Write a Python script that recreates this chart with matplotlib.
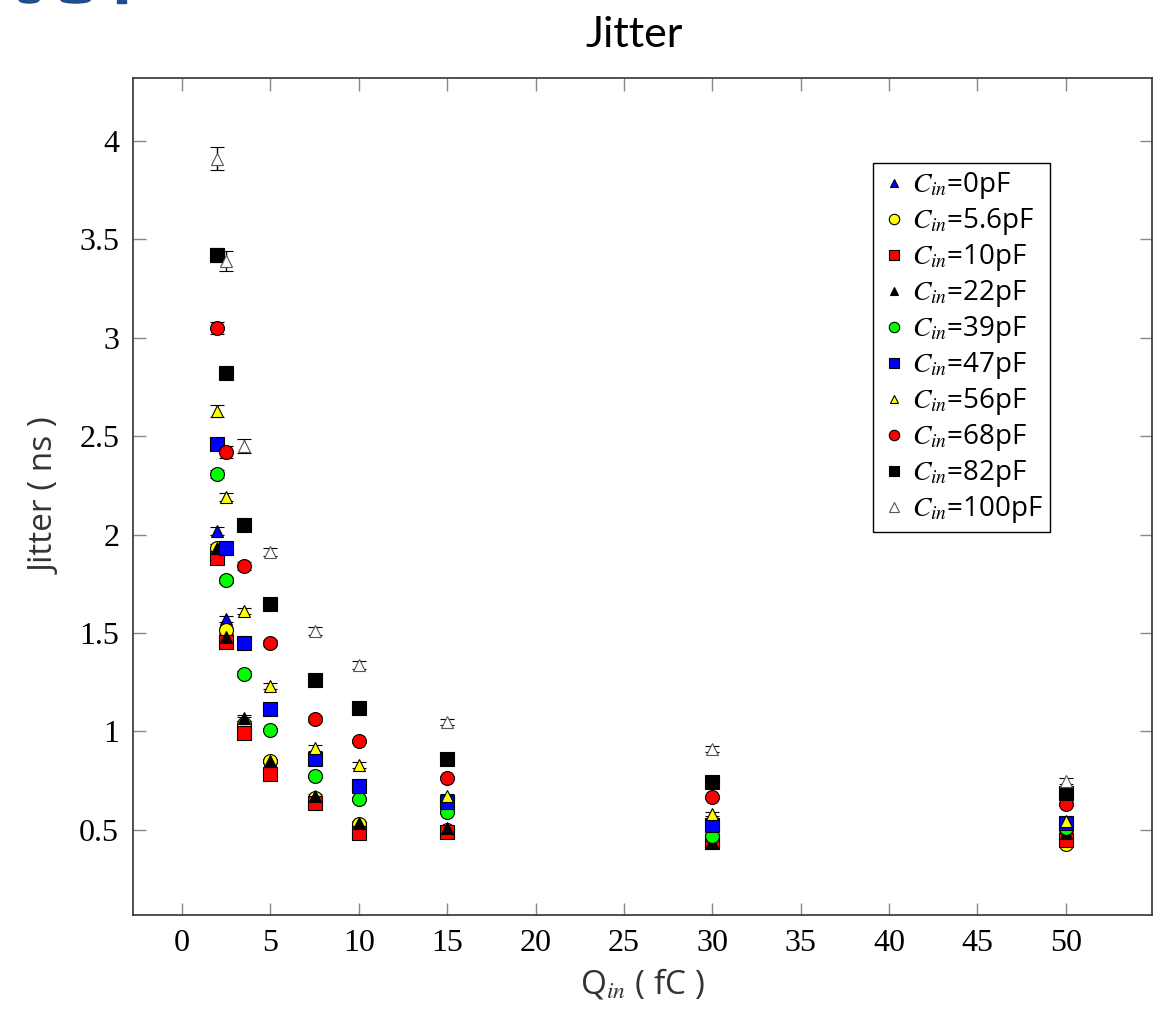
import numpy as np
import matplotlib
matplotlib.use('Agg')
from matplotlib import pyplot as plt
from matplotlib.patches import Ellipse, Rectangle

# charge points (fC)
q_in = [2, 2.5, 3.5, 5, 7.5, 10, 15, 30, 50]

# jitter (ns) per input capacitance
j_0 = [2.02, 1.57, 1.06, 0.85, 0.66, 0.53, 0.50, 0.49, 0.50]
j_5p6 = [1.93, 1.515, 1.04, 0.85, 0.66, 0.53, 0.50, 0.45, 0.43]
j_10 = [1.88, 1.455, 0.99, 0.785, 0.635, 0.485, 0.49, 0.44, 0.45]
j_22 = [1.93, 1.48, 1.07, 0.85, 0.67, 0.535, 0.51, 0.44, 0.485]
j_39 = [2.31, 1.77, 1.29, 1.01, 0.775, 0.655, 0.59, 0.47, 0.51]
j_47 = [2.46, 1.93, 1.45, 1.115, 0.86, 0.725, 0.64, 0.525, 0.535]
j_56 = [2.63, 2.19, 1.61, 1.23, 0.915, 0.83, 0.67, 0.58, 0.545]
j_68 = [3.05, 2.42, 1.84, 1.45, 1.065, 0.95, 0.765, 0.665, 0.63]
j_82 = [3.42, 2.82, 2.05, 1.65, 1.26, 1.12, 0.86, 0.745, 0.69]
j_100 = [3.91, 3.39, 2.45, 1.91, 1.51, 1.34, 1.05, 0.91, 0.75]

# error bars (ns)
e_small = [0.02, 0.015, 0.015, 0.01, 0.01, 0.01, 0.01, 0.01, 0.01]
e_56 = [0.03, 0.02, 0.015, 0.015, 0.015, 0.015, 0.015, 0.01, 0.01]
e_68 = [0.03, 0.03, 0.02, 0.015, 0.015, 0.01, 0.01, 0.01, 0.01]
e_82 = [0.035, 0.02, 0.015, 0.015, 0.01, 0.01, 0.01, 0.01, 0.01]
e_100 = [0.06, 0.05, 0.035, 0.02, 0.02, 0.02, 0.015, 0.015, 0.015]

labels = ['0', '5.6', '10', '22', '39', '47', '56', '68', '82', '100']
series = [j_0, j_5p6, j_10, j_22, j_39, j_47, j_56, j_68, j_82, j_100]
errors = [e_small, e_small, e_small, e_small, e_small, e_small, e_56, e_68, e_82, e_100]
markers = ['^', 'o', 's', '^', 'o', 's', '^', 'o', 's', '^']
colors = ['#0000ff', '#ffff00', '#ff0000', '#000000', '#00ff00',
          '#0000ff', '#ffff00', '#ff0000', '#000000', '#ffffff']
msizes = [8, 10, 10, 8, 10, 10, 8, 10, 10, 9]

plt.rcParams['mathtext.fontset'] = 'stix'

fig = plt.figure(figsize=(11.63, 10.10), dpi=100)
ax = fig.add_axes([0.1144, 0.0941, 0.8761, 0.8287])

# bits of the slide logo cut off at the top-left corner
for cx, w in [(0.025, 0.017), (0.065, 0.025)]:
    fig.patches.append(Ellipse((cx, 1.0), w, 0.006, transform=fig.transFigure,
                               color='#1f4e8c', clip_on=False))
fig.patches.append(Rectangle((0.1006, 0.997), 0.008, 0.003, transform=fig.transFigure,
                             color='#1f4e8c'))

handles = []
names = []
for lab, y, e, m, c, ms in zip(labels, series, errors, markers, colors, msizes):
    cont = ax.errorbar(q_in, y, yerr=e, fmt=m, mfc=c,
                       mec='black' if c != '#ffffff' else '#555555',
                       mew=0.8, ms=ms, ecolor='black', elinewidth=1, capsize=5, capthick=1)
    handles.append(cont[0])
    names.append(r'$C_{in}$=' + lab + 'pF')

ax.set_xlim(-2.77, 54.87)
ax.set_ylim(0.068, 4.32)
ax.set_xticks(np.arange(0, 55, 5))
ax.set_yticks([0.5, 1, 1.5, 2, 2.5, 3, 3.5, 4])
ax.set_yticklabels(['0.5', '1', '1.5', '2', '2.5', '3', '3.5', '4'])
ax.tick_params(direction='in', length=9, width=1, color='#888888', top=True, right=True,
               labelsize=23, pad=10)
for t in ax.get_xticklabels() + ax.get_yticklabels():
    t.set_fontfamily('Liberation Serif')
for s in ax.spines.values():
    s.set_linewidth(1.2)
    s.set_color('#333333')

ax.set_xlabel(r'Q$_{in}$ ( fC )', fontsize=24, family='Open Sans', color='#333333', labelpad=6)
ax.set_ylabel('Jitter ( ns )', fontsize=24, family='Open Sans', color='#333333', labelpad=12)
fig.text(0.545, 0.965, 'Jitter', ha='center', va='center', fontsize=31, family='Lato')

leg = ax.legend(handles, names, loc='upper right', bbox_to_anchor=(0.9, 0.898),
                fancybox=False, edgecolor='black', framealpha=1,
                prop={'family': 'Open Sans', 'size': 20},
                handletextpad=0.15, labelspacing=0.18, borderpad=0.25, handlelength=1.0,
                borderaxespad=0, markerscale=0.75, numpoints=1)
leg.get_frame().set_linewidth(1.0)

plt.savefig('out.png', dpi=100)
